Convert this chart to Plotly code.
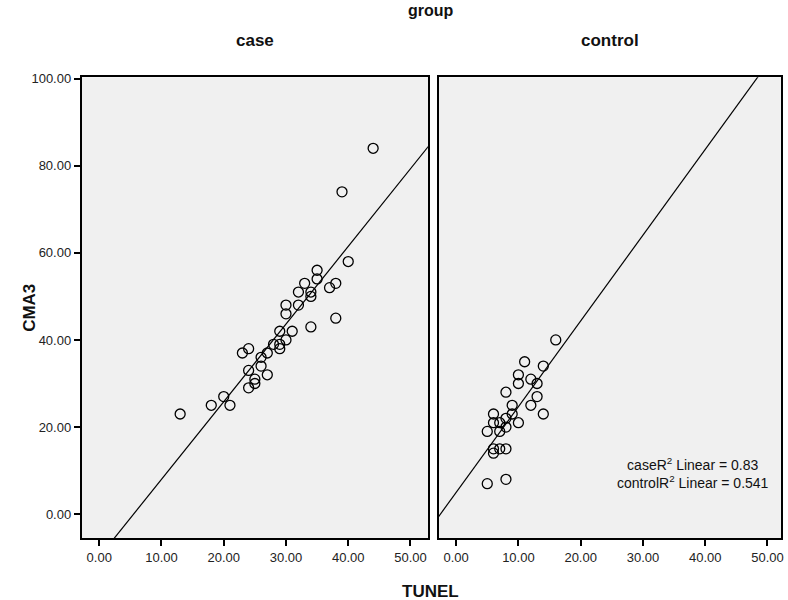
import numpy as np
import plotly.graph_objects as go

# ---- data (TUNEL vs CMA3, by group) ----
case_tunel = [44, 39, 40, 35, 35, 33, 38, 37, 32, 34, 34, 30, 32, 30, 38, 34, 29, 31,
              30, 28, 29, 29, 23, 24, 27, 26, 26, 24, 27, 25, 25, 24, 20, 18, 21, 13]
case_cma3 = [84, 74, 58, 56, 54, 53, 53, 52, 51, 51, 50, 48, 48, 46, 45, 43, 42, 42,
             40, 39, 39, 38, 37, 38, 37, 36, 34, 33, 32, 31, 30, 29, 27, 25, 25, 23]

control_tunel = [16, 11, 14, 10, 10, 12, 13, 8, 13, 9, 12, 6, 9, 14, 8, 6, 7, 10,
                 8, 5, 7, 6, 7, 8, 6, 8, 5]
control_cma3 = [40, 35, 34, 32, 30, 31, 30, 28, 27, 25, 25, 23, 23, 23, 22, 21, 21, 21,
                20, 19, 19, 15, 15, 15, 14, 8, 7]

x_ticks = [0, 10, 20, 30, 40, 50]
y_ticks = [0, 20, 40, 60, 80, 100]
r2_labels = ["caseR<sup>2</sup> Linear = 0.83", "controlR<sup>2</sup> Linear = 0.541"]

W, H = 788, 600
FONT = "Liberation Sans, Arial, sans-serif"
BOLD = "Liberation Sans Narrow, Arial Narrow, Liberation Sans, Arial, sans-serif"

fig = go.Figure()

x_range_l = [-2.8, 52.8]
x_range_r = [-2.77, 52.22]
y_range = [-5.45, 100.3]

panels = [
    ("x", "y", case_tunel, case_cma3, x_range_l),
    ("x2", "y2", control_tunel, control_cma3, x_range_r),
]
for xa, ya, xs, ys, xr in panels:
    fig.add_trace(go.Scatter(
        x=xs, y=ys, mode="markers", xaxis=xa, yaxis=ya,
        marker=dict(symbol="circle-open", size=10, color="black",
                    line=dict(width=1.3, color="black")),
        showlegend=False, hoverinfo="skip"))
    slope, icpt = np.polyfit(np.array(xs, float), np.array(ys, float), 1)
    lx = np.array([xr[0] - 10, xr[1] + 10])
    fig.add_trace(go.Scatter(
        x=lx, y=icpt + slope * lx, mode="lines", xaxis=xa, yaxis=ya,
        line=dict(color="black", width=1.2), showlegend=False, hoverinfo="skip"))

ydom = [1 - 537.3 / H, 1 - 72 / H]
xdom_l = [82 / W, 429 / W]
xdom_r = [440 / W, 783.3 / W]

axis_common = dict(
    showgrid=False, zeroline=False, showline=True, mirror=True,
    linecolor="black", linewidth=2, ticks="outside", ticklen=6,
    tickwidth=2, tickcolor="black", tickformat=".2f",
    tickfont=dict(family=FONT, size=13, color="#222"))

fig.update_layout(
    width=W, height=H,
    margin=dict(l=0, r=0, t=0, b=0),
    paper_bgcolor="white", plot_bgcolor="#f0f0f0",
    xaxis=dict(domain=xdom_l, range=x_range_l, tickvals=x_ticks, anchor="y", **axis_common),
    xaxis2=dict(domain=xdom_r, range=x_range_r, tickvals=x_ticks, anchor="y2", **axis_common),
    yaxis=dict(domain=ydom, range=y_range, tickvals=y_ticks, anchor="x", **axis_common),
    yaxis2=dict(domain=ydom, range=y_range, tickvals=y_ticks, anchor="x2",
                showticklabels=False, **axis_common),
)
fig.update_layout(yaxis2=dict(ticks=""))

annots = [
    dict(text="group", x=432 / W, y=1 - 5 / H, size=16),
    dict(text="case", x=(82 + 429) / 2 / W, y=1 - 35 / H, size=17),
    dict(text="control", x=(440 + 783.3) / 2 / W, y=1 - 35 / H, size=17),
    dict(text="TUNEL", x=432 / W, y=1 - 591 / H, size=17),
]
for a in annots:
    fig.add_annotation(text="<b>%s</b>" % a["text"], xref="paper", yref="paper",
                       x=a["x"], y=a["y"], showarrow=False, xanchor="center", yanchor="middle",
                       font=dict(family=BOLD, size=a["size"], color="#111"))
fig.add_annotation(text="<b>CMA3</b>", xref="paper", yref="paper", x=30 / W, y=1 - 305 / H,
                   textangle=-90, showarrow=False, xanchor="center", yanchor="middle",
                   font=dict(family=BOLD, size=17, color="#111"))
fig.add_annotation(text="<br>".join(r2_labels), xref="paper", yref="paper",
                   x=695 / W, y=1 - 472 / H, showarrow=False, align="center",
                   xanchor="center", yanchor="middle",
                   font=dict(family=FONT, size=14, color="#111"))

fig.write_html("out.html", config={"displayModeBar": False},
               post_script="document.body.style.margin='0';document.body.style.overflow='hidden';")
